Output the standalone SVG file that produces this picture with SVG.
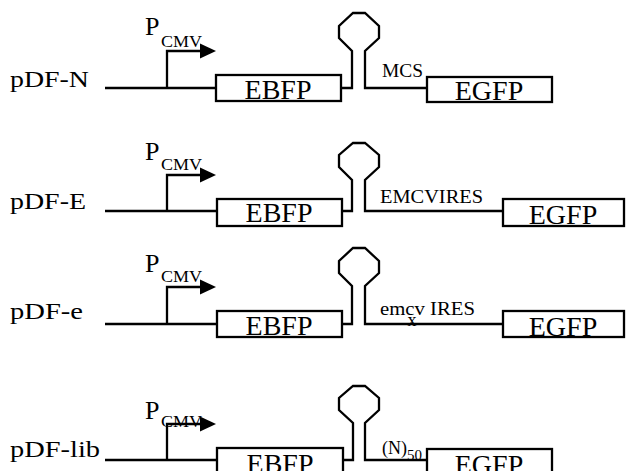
<svg xmlns="http://www.w3.org/2000/svg" width="626" height="471" viewBox="0 0 626 471">
<style>
.ln{fill:none;stroke:#000;stroke-width:2.3;stroke-linejoin:miter}
.box{fill:#fff;stroke:#000;stroke-width:2.3}
.t{font-family:"Liberation Serif","Times New Roman",serif;fill:#000}
.lab{font-size:24px}
.gene{font-size:28px;text-anchor:middle}
.small{font-size:18px}
.p{font-size:26px}
.sub{font-size:16px}
</style>
<defs>
<path id="head" d="M0,-7.5 L16,0 L0,7.5 Z" fill="#000"/>
</defs>
<rect width="626" height="471" fill="#fff"/>
<g id="connectors">
  <path class="ln" d="M105,88 H217"/>
  <path class="ln" d="M341,88 H352 V51 L339,38 V26 L353,13 H365 L379,26 V38 L365,51 V88 H427"/>
  <path class="ln" d="M105,211 H217"/>
  <path class="ln" d="M342,211 H352 V180 L339,167 V155 L353,143 H365 L379,155 V167 L365,180 V211 H503"/>
  <path class="ln" d="M105,324 H217"/>
  <path class="ln" d="M342,324 H352 V286 L339,273 V261 L353,248 H365 L379,261 V273 L365,286 V324 H503"/>
  <path class="ln" d="M105,460 H217"/>
  <path class="ln" d="M343,460 H353 V423 L339,410 V398 L353,386 H365 L379,398 V410 L365,423 V460 H427"/>
</g>
<g id="pDF-N">
  <text class="t lab" x="10" y="87" textLength="79" lengthAdjust="spacingAndGlyphs">pDF-N</text>
  <path class="ln" d="M167,88 V51 H201"/>
  <use href="#head" x="200" y="51"/>
  <text class="t p" x="145" y="35">P</text>
  <text class="t sub" x="161" y="47" textLength="41" lengthAdjust="spacingAndGlyphs">CMV</text>
  <rect class="box" x="216" y="75" width="125" height="26"/>
  <text class="t gene" x="278" y="99">EBFP</text>
  <text class="t small" x="382" y="77" textLength="41" lengthAdjust="spacingAndGlyphs">MCS</text>
  <rect class="box" x="427" y="77" width="125" height="25"/>
  <text class="t gene" x="489" y="100">EGFP</text>
</g>
<g id="pDF-E">
  <text class="t lab" x="10" y="209" textLength="76" lengthAdjust="spacingAndGlyphs">pDF-E</text>
  <path class="ln" d="M167,211 V175 H201"/>
  <use href="#head" x="200" y="175"/>
  <text class="t p" x="145" y="160">P</text>
  <text class="t sub" x="161" y="170" textLength="41" lengthAdjust="spacingAndGlyphs">CMV</text>
  <rect class="box" x="217" y="199" width="125" height="27"/>
  <text class="t gene" x="279" y="222">EBFP</text>
  <text class="t small" x="380" y="203" textLength="103" lengthAdjust="spacingAndGlyphs">EMCVIRES</text>
  <rect class="box" x="503" y="199" width="121" height="27"/>
  <text class="t gene" x="563" y="224">EGFP</text>
</g>
<g id="pDF-e">
  <text class="t lab" x="10" y="319" textLength="73" lengthAdjust="spacingAndGlyphs">pDF-e</text>
  <path class="ln" d="M167,324 V287 H201"/>
  <use href="#head" x="200" y="287"/>
  <text class="t p" x="145" y="272">P</text>
  <text class="t sub" x="161" y="282" textLength="41" lengthAdjust="spacingAndGlyphs">CMV</text>
  <rect class="box" x="217" y="311" width="125" height="26"/>
  <text class="t gene" x="279" y="335">EBFP</text>
  <text class="t small" x="380" y="315" textLength="95" lengthAdjust="spacingAndGlyphs">emcv IRES</text>
  <text class="t small" x="412" y="326" text-anchor="middle" font-size="16">x</text>
  <rect class="box" x="503" y="311" width="121" height="26"/>
  <text class="t gene" x="563" y="336">EGFP</text>
</g>
<g id="pDF-lib">
  <text class="t lab" x="10" y="457" textLength="90" lengthAdjust="spacingAndGlyphs">pDF-lib</text>
  <path class="ln" d="M167,460 V424 H201"/>
  <use href="#head" x="200" y="424"/>
  <text class="t p" x="145" y="419">P</text>
  <text class="t sub" x="161" y="427" textLength="41" lengthAdjust="spacingAndGlyphs">CMV</text>
  <rect class="box" x="217" y="448" width="126" height="26"/>
  <text class="t gene" x="280" y="473">EBFP</text>
  <text class="t small" x="382" y="454" font-size="19">(N)<tspan font-size="15" dy="6">50</tspan></text>
  <rect class="box" x="427" y="449" width="125" height="26"/>
  <text class="t gene" x="489" y="474">EGFP</text>
</g>
</svg>
